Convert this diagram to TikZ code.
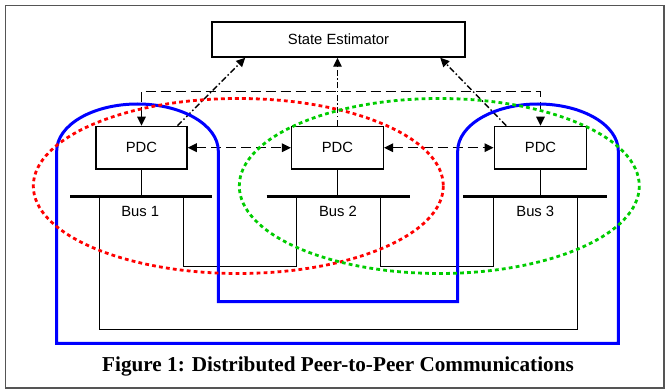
\documentclass[tikz,border=0pt]{standalone}
\usepackage{fontspec}
\setmainfont{Liberation Serif}
\setsansfont{Liberation Sans}
\usetikzlibrary{arrows.meta,calc}
\definecolor{mygreen}{RGB}{0,204,0}
\definecolor{framegray}{RGB}{85,85,85}
\begin{document}
\begin{tikzpicture}[x=1pt,y=-1pt,
  box/.style={draw, line width=1.5pt, fill=white, inner sep=0pt, minimum height=42.5pt,
    font=\sffamily\fontsize{14.8}{16}\selectfont},
  lbl/.style={inner sep=0pt, font=\sffamily\fontsize{14.8}{16}\selectfont},
  wire/.style={line width=1.4pt},
  busbar/.style={line width=3pt},
  tipA/.style={-{Triangle[length=9pt,width=8.5pt]}},
  tipAB/.style={{Triangle[length=9pt,width=8.5pt]}-{Triangle[length=9pt,width=8.5pt]}},
  dashln/.style={line width=1.5pt, dash pattern=on 10pt off 5pt},
  dashdotln/.style={line width=1.4pt, dash pattern=on 6pt off 2.5pt on 1.5pt off 2.5pt},
  bluepath/.style={draw=blue, line width=3pt},
  reddots/.style={draw=red, line width=2.8pt, dash pattern=on 3.8pt off 3.2pt},
  greendots/.style={draw=mygreen, line width=2.8pt, dash pattern=on 3.8pt off 3.2pt}
]
\useasboundingbox (0,0) rectangle (665,390);
\draw[framegray, line width=1.5pt] (5.7,5.7) rectangle (664,388);

% nodes
\node[box, minimum width=253pt, minimum height=35pt] (se) at (338.5,39.5) {State Estimator};
\node[box, minimum width=91pt] (p1) at (141.5,147.7) {PDC};
\node[box, minimum width=91.6pt] (p2) at (337.5,147.7) {PDC};
\node[box, minimum width=92.4pt] (p3) at (540.5,147.7) {PDC};

% bus bars
\coordinate (b1l) at (70,196.7);   \coordinate (b1r) at (212.3,196.7);
\coordinate (b2l) at (266.7,196.7);\coordinate (b2r) at (410,196.7);
\coordinate (b3l) at (463.3,196.7);\coordinate (b3r) at (606.7,196.7);
\draw[busbar] (b1l) -- (b1r);
\draw[busbar] (b2l) -- (b2r);
\draw[busbar] (b3l) -- (b3r);
\draw[wire] (p1.south) -- (p1.south |- b1l);
\draw[wire] (p2.south) -- (p2.south |- b2l);
\draw[wire] (p3.south) -- (p3.south |- b3l);

\node[lbl] (bl1) at (140.3,211) {Bus 1};
\node[lbl] (bl2) at (338,211) {Bus 2};
\node[lbl] (bl3) at (535.3,211) {Bus 3};

% bus interconnections
\coordinate (d1a) at (99.3,196.7);  \coordinate (d1b) at (183.3,196.7);
\coordinate (d2a) at (296.7,196.7); \coordinate (d2b) at (380.7,196.7);
\coordinate (d3a) at (493.3,196.7); \coordinate (d3b) at (577.7,196.7);
\draw[wire] (d1b) -- (183.3,266.5) -- (296.7,266.5) -- (d2a);
\draw[wire] (d2b) -- (380.7,266.5) -- (493.3,266.5) -- (d3a);
\draw[wire] (d1a) -- (99.3,329.7) -- (577.7,329.7) -- (d3b);

% communication arrows
\coordinate (tl) at (141.5,91.3);
\coordinate (tr) at (540.5,91.3);
\draw[dashln, tipAB] (p1.north) -- (tl) -- (tr) -- (p3.north);
\draw[dashln, tipAB] (p1.east) -- (p2.west);
\draw[dashln, tipAB] (p2.east) -- (p3.west);
\draw[dashdotln, tipA] ($(p1.north east)+(-10.3,0)$) -- ($(se.south west)+(34,0)$);
\draw[dashdotln, tipA] (p2.north) -- (p2.north |- se.south);
\draw[dashdotln, tipA] ($(p3.north west)+(12.7,0)$) -- ($(se.south east)+(-25.5,0)$);

% blue communication loop
\draw[bluepath] (218.3,151) -- (218.3,301.7) -- (457.7,301.7) -- (457.7,151)
  arc[start angle=180, end angle=0, x radius=80.3, y radius=-47]
  -- (618.3,343.3) -- (56.7,343.3) -- (56.7,151)
  arc[start angle=180, end angle=0, x radius=80.8, y radius=-47] -- cycle;

% dotted areas
\draw[reddots] (238.3,186) ellipse [x radius=205, y radius=87.5];
\draw[greendots] (439.3,186) ellipse [x radius=200, y radius=87.5];

% caption
\node[anchor=base, inner sep=0pt, font=\fontsize{21.2}{24}\selectfont\bfseries] (cap) at (338,372)
  {Figure 1: Distributed Peer-to-Peer Communications};
\end{tikzpicture}
\end{document}
